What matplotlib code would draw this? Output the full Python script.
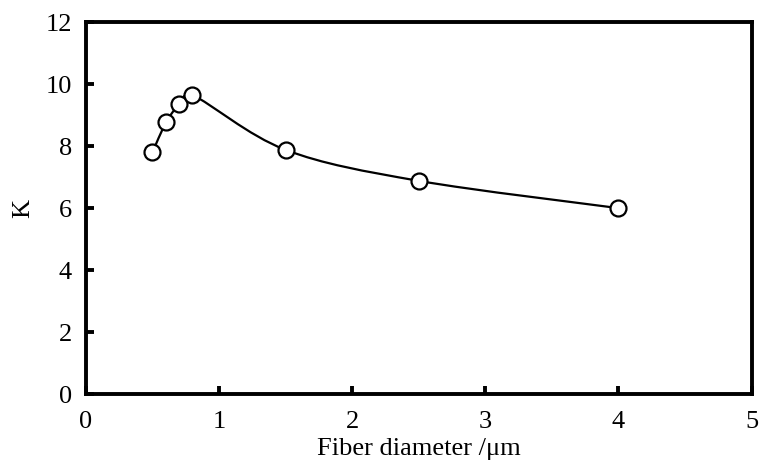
import numpy as np
from matplotlib import pyplot as plt
from matplotlib.path import Path
from matplotlib.patches import PathPatch

plt.rcParams['font.family'] = ['Liberation Serif', 'DejaVu Serif']

diameter = [0.5, 0.6, 0.7, 0.8, 1.5, 2.5, 4.0]
k_values = [7.8, 8.77, 9.37, 9.65, 7.88, 6.88, 6.0]

fig = plt.figure(figsize=(7.6, 4.62), dpi=100)
ax = fig.add_axes([0.113, 0.147, 0.876, 0.805])

# smooth curve through the points (Catmull-Rom as cubic Bezier)
x = np.array(diameter)
y = np.array(k_values)
verts = [(x[0], y[0])]
codes = [Path.MOVETO]
for i in range(len(x) - 1):
    p0 = (x[max(i - 1, 0)], y[max(i - 1, 0)])
    p1 = (x[i], y[i])
    p2 = (x[i + 1], y[i + 1])
    p3 = (x[min(i + 2, len(x) - 1)], y[min(i + 2, len(x) - 1)])
    # shorter tangents on the short segments keep the curve from overshooting
    f = 6 if x[i + 1] - x[i] > 0.2 else 12
    c1 = (p1[0] + (p2[0] - p0[0]) / f, p1[1] + (p2[1] - p0[1]) / f)
    c2 = (p2[0] - (p3[0] - p1[0]) / f, p2[1] - (p3[1] - p1[1]) / f)
    verts += [c1, c2, p2]
    codes += [Path.CURVE4] * 3
ax.add_patch(PathPatch(Path(verts, codes), facecolor="none", edgecolor="black", lw=1.6, zorder=2))

ax.plot(diameter, k_values, linestyle="", marker="o", ms=11.5, mfc="white",
        mec="black", mew=1.6, zorder=3)

ax.set_xlim(0, 5)
ax.set_ylim(0, 12)
ax.set_xticks(range(0, 6))
ax.set_yticks(range(0, 13, 2))
ax.tick_params(direction="in", length=6, width=2.8, labelsize=19)
ax.tick_params(axis="x", pad=12)
ax.tick_params(axis="y", pad=10)
for s in ax.spines.values():
    s.set_linewidth(2.8)
ax.set_xlabel("Fiber diameter /\u03bcm", fontsize=19, labelpad=4)
ax.set_ylabel("K", fontsize=19, labelpad=8)

fig.savefig("out.png", dpi=100)
